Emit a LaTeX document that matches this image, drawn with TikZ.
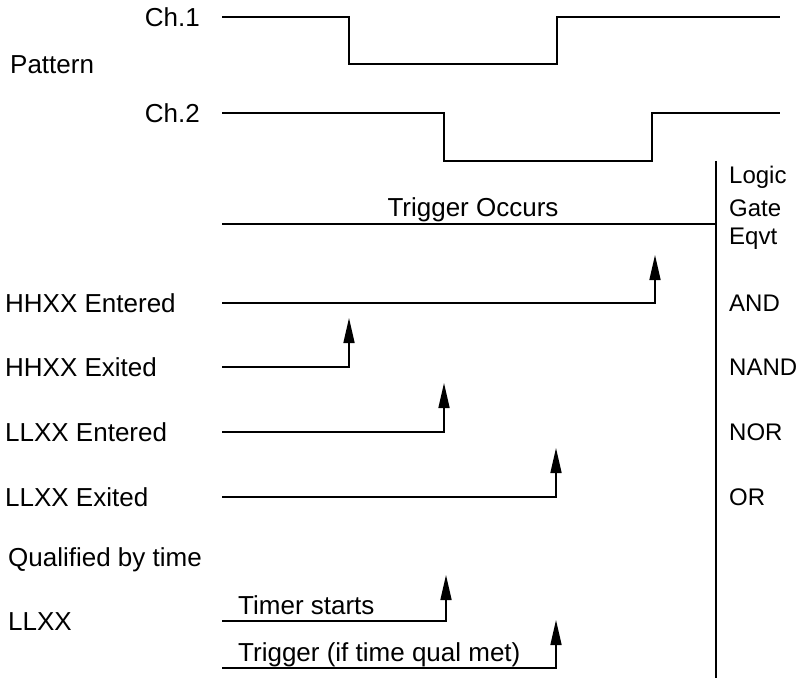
\documentclass[tikz,border=0pt]{standalone}
\usepackage{fontspec}
\setmainfont{Liberation Sans}
\usetikzlibrary{positioning,arrows.meta}

\begin{document}
\begin{tikzpicture}[x=1pt,y=-1pt,
  font=\fontsize{26}{30}\selectfont,>={Triangle[length=25pt,width=11pt]},
  lbl/.style={anchor=west,inner sep=0pt},
  gate/.style={anchor=west,inner sep=0pt,font=\fontsize{24}{28}\selectfont},
  wave/.style={line width=1.6pt},
  trig/.style={line width=1.6pt,->}]
  \useasboundingbox (0,0) rectangle (798,682);
  % pattern waveforms
  \node[anchor=east,inner sep=0pt] (ch1) at (200,17) {Ch.1};
  \node[anchor=east,inner sep=0pt] (ch2) at (200,113) {Ch.2};
  \node[lbl] (pat) at (10,65) {Pattern};
  \draw[wave] (222,17) -- (349,17) -- (349,64) -- (557,64) -- (557,17) -- (780,17);
  \draw[wave] (222,113) -- (444,113) -- (444,161) -- (652,161) -- (652,113) -- (780,113);
  % trigger line and divider
  \draw[wave] (716,161) -- (716,678);
  \draw[wave] (222,224) -- (716,224);
  \node[anchor=base,inner sep=0pt] (occ) at (473,216) {Trigger Occurs};
  \node[gate] (logic) at (729,177) {Logic};
  \node[gate] (gt) at (729,208) {Gate};
  \node[gate] (eqvt) at (729,239) {Eqvt};
  % events
  \node[lbl] (hhen) at (5,303) {HHXX Entered};
  \node[lbl] (hhex) at (5,367) {HHXX Exited};
  \node[lbl] (llen) at (5,432) {LLXX Entered};
  \node[lbl] (llex) at (5,497) {LLXX Exited};
  \draw[trig] (222,303) -| (655,255);
  \draw[trig] (222,367) -| (349,318);
  \draw[trig] (222,432) -| (444,383);
  \draw[trig] (222,497) -| (556,448);
  \node[gate] (and) at (729,303) {AND};
  \node[gate] (nand) at (729,367) {NAND};
  \node[gate] (nor) at (729,432) {NOR};
  \node[gate] (or) at (729,497) {OR};
  % time qualified
  \node[lbl] (qual) at (8,560) {Qualified by time};
  \node[lbl] (llxx) at (8,622) {LLXX};
  \draw[trig] (222,621) -| (446,575);
  \draw[trig] (222,668) -| (556,620);
  \node[anchor=base west,inner sep=0pt] (tstart) at (238,614) {Timer starts};
  \node[anchor=base west,inner sep=0pt] (tqual) at (238,661) {Trigger (if time qual met)};
\end{tikzpicture}
\end{document}
